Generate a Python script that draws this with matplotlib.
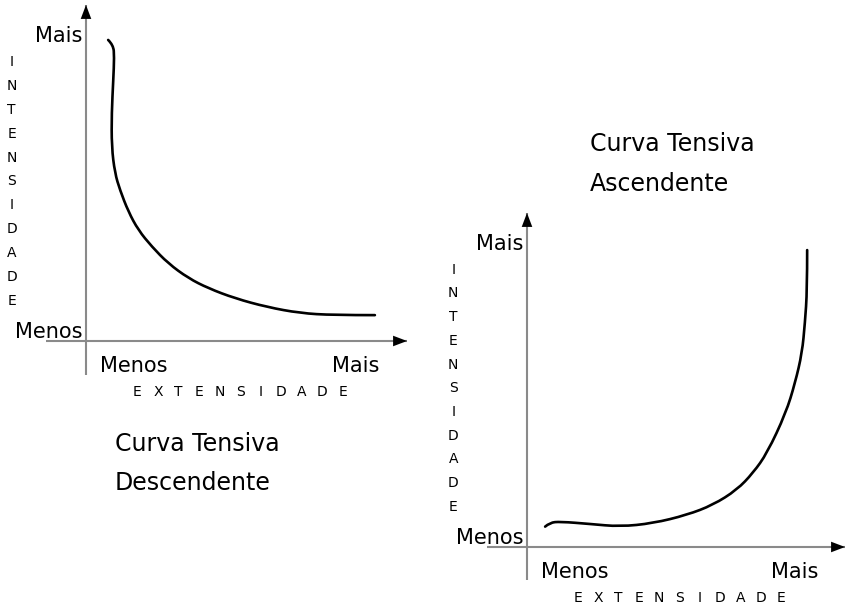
import numpy as np
import matplotlib
matplotlib.use('Agg')
from matplotlib import pyplot as plt
from matplotlib.path import Path
from matplotlib.patches import PathPatch


# curve (x = extensidade, y = intensidade, 0..1 to arrow tips)
desc_x = [0.069, 0.085, 0.088, 0.085, 0.080, 0.080, 0.090, 0.106, 0.132, 0.163,
          0.205, 0.256, 0.319, 0.381, 0.464, 0.564, 0.667, 0.769, 0.900]
desc_y = [0.896, 0.881, 0.846, 0.777, 0.679, 0.578, 0.500, 0.449, 0.385, 0.330,
          0.281, 0.231, 0.187, 0.157, 0.127, 0.101, 0.083, 0.077, 0.077]

asc_x = [0.057, 0.072, 0.104, 0.198, 0.292, 0.396, 0.503, 0.585, 0.660, 0.711,
         0.755, 0.814, 0.843, 0.865, 0.874, 0.881, 0.881]
asc_y = [0.061, 0.073, 0.076, 0.069, 0.061, 0.071, 0.096, 0.126, 0.171, 0.222,
         0.281, 0.401, 0.491, 0.581, 0.671, 0.769, 0.889]

lo_label, hi_label = 'Menos', 'Mais'
x_title = 'EXTENSIDADE'
y_title = 'INTENSIDADE'
titles = ['Curva Tensiva\nDescendente', 'Curva Tensiva\nAscendente']

W, H = 846, 608
fig = plt.figure(figsize=(W/100, H/100), dpi=100)
fig.patch.set_facecolor('white')

AXCOL = '#8a8a8a'
FS = 15


def smooth_path(x, y):
	# quadratic segments with the read points as control points (hand-drawn look)
	p = np.column_stack([x, y])
	verts = [p[0]]
	codes = [Path.MOVETO]
	for i in range(1, len(p)-1):
		verts += [p[i], (p[i] + p[i+1]) / 2 if i < len(p)-2 else p[i+1]]
		codes += [Path.CURVE3, Path.CURVE3]
	return Path(verts, codes)


def diagram(rect, cx, cy, title, title_xy):
	ax = fig.add_axes(rect)
	ax.set_xlim(0, 1)
	ax.set_ylim(0, 1)
	ax.axis('off')
	# axis lines
	ax.plot([-0.125, 1.0], [0, 0], color=AXCOL, lw=1.5, clip_on=False, solid_capstyle='butt')
	ax.plot([0, 0], [-0.10, 1.0], color=AXCOL, lw=1.5, clip_on=False, solid_capstyle='butt')
	ap = dict(arrowstyle='-|>,head_length=1.0,head_width=0.38', color='black', lw=0.01,
	          shrinkA=0, shrinkB=0, mutation_scale=10)
	ax.annotate('', xy=(1.0, 0), xytext=(0.95, 0), arrowprops=ap, annotation_clip=False)
	ax.annotate('', xy=(0, 1.0), xytext=(0, 0.95), arrowprops=ap, annotation_clip=False)
	# curve
	ax.add_patch(PathPatch(smooth_path(cx, cy), facecolor='none', edgecolor='black',
	                       lw=1.9, clip_on=False, capstyle='round', joinstyle='round'))
	# axis labels
	ax.text(-0.01, 0.89, hi_label, ha='right', va='baseline', fontsize=FS)
	ax.text(-0.01, 0.008, lo_label, ha='right', va='baseline', fontsize=FS)
	ax.text(0.045, -0.092, lo_label, ha='left', va='baseline', fontsize=FS)
	ax.text(0.915, -0.092, hi_label, ha='right', va='baseline', fontsize=FS)
	for i, ch in enumerate(x_title):
		ax.text(0.16 + i*0.064, -0.153, ch, ha='center', va='center', fontsize=10)
	for i, ch in enumerate(y_title):
		ax.text(-0.232, 0.83 - i*0.071, ch, ha='center', va='center', fontsize=10)
	ax.text(title_xy[0], title_xy[1], title, ha='left', va='center', fontsize=17,
	        linespacing=1.8)
	return ax


diagram([86/W, (H-341)/H, 321/W, 336/H], desc_x, desc_y, titles[0], (0.09, -0.365))
diagram([527/W, (H-547)/H, 318/W, 334/H], asc_x, asc_y, titles[1], (0.198, 1.147))

fig.savefig('out.png', dpi=100, facecolor='white')
